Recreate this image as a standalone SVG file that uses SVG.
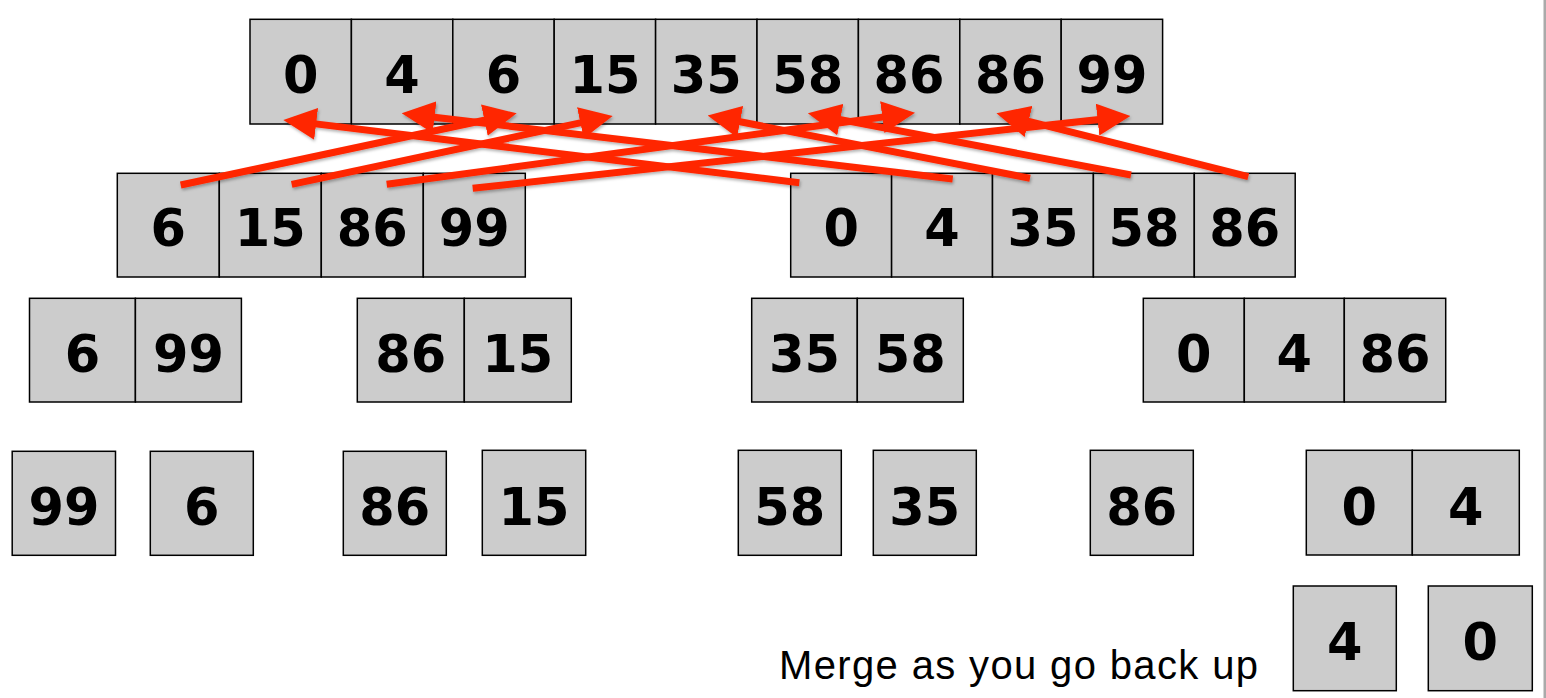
<svg xmlns="http://www.w3.org/2000/svg" width="1546" height="698" viewBox="0 0 1546 698">
<style>
.cell{fill:#cccccc;stroke:#000;stroke-width:1.5}
.num{font-family:"DejaVu Sans",Verdana,sans-serif;font-weight:bold;font-size:51px;text-anchor:middle;fill:#000}
.arrow{stroke:#ff2600;stroke-width:7;fill:none;marker-end:url(#ah)}
.caption{font-family:"Liberation Sans",Arial,Helvetica,sans-serif;font-size:40px;fill:#000}
</style>
<defs>
<marker id="ah" markerUnits="userSpaceOnUse" markerWidth="33" markerHeight="32" viewBox="0 0 33 32" refX="13" refY="16" orient="auto">
<path d="M0,0 L33,16 L0,32 Z" fill="#ff2600"/>
</marker>
<filter id="sh" x="-5%" y="-20%" width="110%" height="160%">
<feDropShadow dx="1" dy="2" stdDeviation="1.5" flood-color="#000" flood-opacity="0.3"/>
</filter>
</defs>
<rect x="1543.5" y="0" width="2.5" height="698" fill="#aaaaaa"/>

<g id="top-array">
<rect class="cell" x="250" y="19.3" width="101.4" height="104.7"/>
<rect class="cell" x="351.4" y="19.3" width="101.4" height="104.7"/>
<rect class="cell" x="452.8" y="19.3" width="101.4" height="104.7"/>
<rect class="cell" x="554.2" y="19.3" width="101.4" height="104.7"/>
<rect class="cell" x="655.6" y="19.3" width="101.4" height="104.7"/>
<rect class="cell" x="757" y="19.3" width="101.4" height="104.7"/>
<rect class="cell" x="858.4" y="19.3" width="101.4" height="104.7"/>
<rect class="cell" x="959.8" y="19.3" width="101.4" height="104.7"/>
<rect class="cell" x="1061.2" y="19.3" width="101.4" height="104.7"/>
<text class="num" x="300.7" y="93.3">0</text>
<text class="num" x="402.1" y="93.3">4</text>
<text class="num" x="503.5" y="93.3">6</text>
<text class="num" x="604.9" y="93.3">15</text>
<text class="num" x="706.3" y="93.3">35</text>
<text class="num" x="807.7" y="93.3">58</text>
<text class="num" x="909.1" y="93.3">86</text>
<text class="num" x="1010.5" y="93.3">86</text>
<text class="num" x="1111.9" y="93.3">99</text>
</g>

<g id="left-half">
<rect class="cell" x="117.3" y="173.3" width="102" height="103.7"/>
<rect class="cell" x="219.3" y="173.3" width="102" height="103.7"/>
<rect class="cell" x="321.3" y="173.3" width="102" height="103.7"/>
<rect class="cell" x="423.3" y="173.3" width="102" height="103.7"/>
<text class="num" x="168.3" y="246">6</text>
<text class="num" x="270.3" y="246">15</text>
<text class="num" x="372.3" y="246">86</text>
<text class="num" x="474.3" y="246">99</text>
</g>

<g id="right-half">
<rect class="cell" x="790.7" y="173.3" width="100.9" height="103.7"/>
<rect class="cell" x="891.6" y="173.3" width="100.9" height="103.7"/>
<rect class="cell" x="992.5" y="173.3" width="100.9" height="103.7"/>
<rect class="cell" x="1093.4" y="173.3" width="100.9" height="103.7"/>
<rect class="cell" x="1194.3" y="173.3" width="100.9" height="103.7"/>
<text class="num" x="841.2" y="246">0</text>
<text class="num" x="942.1" y="246">4</text>
<text class="num" x="1043" y="246">35</text>
<text class="num" x="1143.9" y="246">58</text>
<text class="num" x="1244.8" y="246">86</text>
</g>

<g id="pair-6-99">
<rect class="cell" x="29.5" y="298.3" width="105.9" height="103.7"/>
<rect class="cell" x="135.4" y="298.3" width="106" height="103.7"/>
<text class="num" x="82.5" y="372">6</text>
<text class="num" x="188.4" y="372">99</text>
</g>

<g id="pair-86-15">
<rect class="cell" x="357.3" y="298.3" width="107" height="103.7"/>
<rect class="cell" x="464.3" y="298.3" width="107" height="103.7"/>
<text class="num" x="410.8" y="372">86</text>
<text class="num" x="517.8" y="372">15</text>
</g>

<g id="pair-35-58">
<rect class="cell" x="751.7" y="298.3" width="105.6" height="103.7"/>
<rect class="cell" x="857.3" y="298.3" width="106" height="103.7"/>
<text class="num" x="804.5" y="372">35</text>
<text class="num" x="910.3" y="372">58</text>
</g>

<g id="triple-0-4-86">
<rect class="cell" x="1143.3" y="298.3" width="101" height="103.7"/>
<rect class="cell" x="1244.3" y="298.3" width="100" height="103.7"/>
<rect class="cell" x="1344.3" y="298.3" width="101.4" height="103.7"/>
<text class="num" x="1193.8" y="372">0</text>
<text class="num" x="1294.3" y="372">4</text>
<text class="num" x="1395" y="372">86</text>
</g>

<g id="single-99">
<rect class="cell" x="12.2" y="451.3" width="103.3" height="104"/>
<text class="num" x="63.9" y="525">99</text>
</g>
<g id="single-6">
<rect class="cell" x="150.3" y="451.3" width="103" height="104"/>
<text class="num" x="201.8" y="525">6</text>
</g>
<g id="single-86a">
<rect class="cell" x="343.3" y="451.3" width="103" height="104"/>
<text class="num" x="394.8" y="525">86</text>
</g>
<g id="single-15">
<rect class="cell" x="482.3" y="450.3" width="103.4" height="105"/>
<text class="num" x="534" y="525">15</text>
</g>
<g id="single-58">
<rect class="cell" x="738.3" y="450.3" width="103" height="105"/>
<text class="num" x="789.8" y="525">58</text>
</g>
<g id="single-35">
<rect class="cell" x="873.3" y="450.3" width="103" height="105"/>
<text class="num" x="924.8" y="525">35</text>
</g>
<g id="single-86b">
<rect class="cell" x="1090.3" y="450.3" width="103" height="105"/>
<text class="num" x="1141.8" y="525">86</text>
</g>
<g id="pair-0-4">
<rect class="cell" x="1306.3" y="450.3" width="106" height="104.7"/>
<rect class="cell" x="1412.3" y="450.3" width="107" height="104.7"/>
<text class="num" x="1359.3" y="525">0</text>
<text class="num" x="1465.8" y="525">4</text>
</g>
<g id="single-4">
<rect class="cell" x="1293.3" y="586" width="103" height="104.7"/>
<text class="num" x="1344.8" y="660">4</text>
</g>
<g id="single-0">
<rect class="cell" x="1428.3" y="586" width="104" height="104.7"/>
<text class="num" x="1480.3" y="660">0</text>
</g>

<g id="caption">
<text class="caption" x="779" y="679" textLength="479" lengthAdjust="spacing">Merge as you go back up</text>
</g>

<g id="connectors" filter="url(#sh)">
<line class="arrow" x1="180.7" y1="185" x2="497.1" y2="117.5"/>
<line class="arrow" x1="291.7" y1="184.3" x2="593.1" y2="120.2"/>
<line class="arrow" x1="386.7" y1="184.3" x2="895.2" y2="115.4"/>
<line class="arrow" x1="472.7" y1="188.3" x2="1110.5" y2="118.2"/>
<line class="arrow" x1="799.3" y1="182.7" x2="303.2" y2="122.4"/>
<line class="arrow" x1="952.7" y1="179" x2="421.6" y2="115.7"/>
<line class="arrow" x1="1030" y1="178.3" x2="727.3" y2="119.3"/>
<line class="arrow" x1="1131" y1="175" x2="827.5" y2="117.1"/>
<line class="arrow" x1="1248.3" y1="176.7" x2="1015.9" y2="118.2"/>
</g>
</svg>
